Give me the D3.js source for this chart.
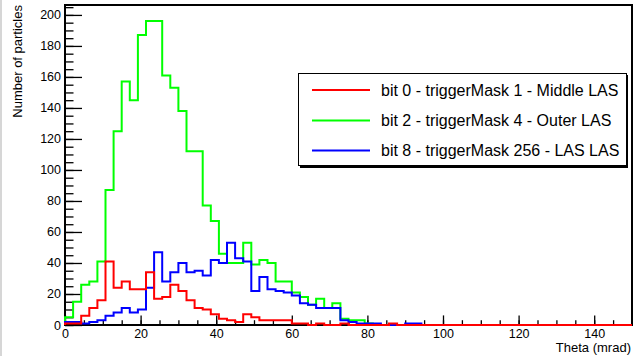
<!DOCTYPE html>
<html>
<head>
<meta charset="utf-8">
<script src="https://cdn.jsdelivr.net/npm/d3@7"></script>
<style>
  html, body { margin: 0; padding: 0; background: #ffffff; }
  svg { display: block; font-family: "Liberation Sans", Arial, Helvetica, sans-serif; }
</style>
</head>
<body>
<svg id="chart" width="633" height="356"></svg>
<script>
// ---- data ----
const xMin = 0, xMax = 150, nBins = 70;
const seriesNames = [
  "bit 0 - triggerMask 1 - Middle LAS",
  "bit 2 - triggerMask 4 - Outer LAS",
  "bit 8 - triggerMask 256 - LAS LAS"
];
const seriesColors = ["#ff0000", "#00ff00", "#0000ff"];
const redCounts = [
  1, 1, 6, 11, 16, 41, 24, 28, 23, 23,
  34, 17, 18, 26, 22, 16, 11, 10, 7, 4,
  3, 2, 7, 5, 3, 3, 3, 3, 1, 1,
  0, 1, 0, 0, 1, 0, 0, 0, 0, 0,
  1, 0, 0, 0, 0, 0, 0, 0, 0, 0,
  0, 0, 0, 0, 0, 0, 0, 0, 0, 0,
  0, 0, 0, 0, 0, 0, 0, 0, 0, 0
];
const greenCounts = [
  5, 15, 26, 28, 41, 87, 125, 157, 145, 187,
  196, 196, 161, 153, 138, 112, 112, 77, 67, 46,
  40, 40, 53, 39, 42, 40, 28, 28, 21, 18,
  13, 17, 11, 14, 4, 3, 3, 1, 0, 0,
  0, 0, 0, 0, 0, 0, 0, 0, 0, 0,
  0, 0, 0, 0, 0, 0, 0, 0, 0, 0,
  0, 0, 0, 0, 0, 0, 0, 0, 0, 0
];
const blueCounts = [
  2, 2, 1, 2, 3, 6, 8, 11, 8, 10,
  24, 47, 28, 34, 40, 34, 35, 32, 42, 40,
  53, 43, 41, 22, 31, 23, 22, 21, 19, 14,
  13, 11, 11, 11, 3, 2, 1, 1, 1, 0,
  0, 0, 1, 1, 0, 0, 0, 0, 0, 0,
  0, 0, 0, 0, 0, 0, 0, 0, 0, 0,
  0, 0, 0, 0, 0, 0, 0, 0, 0, 0
];
const yMax = 206.4;
const xMajorTicks = [0, 20, 40, 60, 80, 100, 120, 140];
const yMajorTicks = [0, 20, 40, 60, 80, 100, 120, 140, 160, 180, 200];
const xTitle = "Theta (mrad)";
const yTitle = "Number of particles";

// ---- layout ----
const svg = d3.select("#chart");
const padL = 65, padR = 632, padT = 5, padB = 325;
const x = d3.scaleLinear().domain([xMin, xMax]).range([padL, padR]);
const y = d3.scaleLinear().domain([0, yMax]).range([padB, padT]);
const binW = (xMax - xMin) / nBins;

// left gray edge
svg.append("rect").attr("x", 0).attr("y", 0).attr("width", 2).attr("height", 356).attr("fill", "#d6d6d6");

// histograms (drawn green, blue, red)
function histPath(counts) {
  const pts = [[xMin, 0]];
  counts.forEach((c, i) => pts.push([xMin + i * binW, c]));
  pts.push([xMax, counts[counts.length - 1]]);
  pts.push([xMax, 0]);
  return d3.line().x(d => x(d[0])).y(d => y(d[1])).curve(d3.curveStepAfter)(pts);
}
const drawOrder = [[greenCounts, seriesColors[1]], [blueCounts, seriesColors[2]], [redCounts, seriesColors[0]]];

// axes
const fontSize = 12.5;
const gx = svg.append("g").attr("transform", `translate(0,${padB})`)
  .call(d3.axisBottom(x).tickValues(xMajorTicks).tickSizeInner(-9.6).tickSizeOuter(0).tickPadding(4).tickFormat(d3.format("d")));
const gxm = svg.append("g").attr("transform", `translate(0,${padB})`)
  .call(d3.axisBottom(x).tickValues(d3.range(0, 151, 5)).tickSizeInner(-4.8).tickSizeOuter(0).tickFormat(""));
const gy = svg.append("g").attr("transform", `translate(${padL},0)`)
  .call(d3.axisLeft(y).tickValues(yMajorTicks).tickSizeInner(-17).tickSizeOuter(0).tickPadding(4).tickFormat(d3.format("d")));
const gym = svg.append("g").attr("transform", `translate(${padL},0)`)
  .call(d3.axisLeft(y).tickValues(d3.range(0, 206, 5)).tickSizeInner(-8.5).tickSizeOuter(0).tickFormat(""));
[gx, gxm, gy, gym].forEach(g => {
  g.select(".domain").remove();
  g.selectAll("line").attr("stroke", "#000").attr("stroke-width", 1.3);
  g.selectAll("text").attr("font-size", fontSize).attr("fill", "#000")
    .attr("font-family", '"Liberation Sans", Arial, sans-serif');
});

// frame
svg.append("rect").attr("x", padL).attr("y", padT).attr("width", padR - padL).attr("height", padB - padT)
  .attr("fill", "none").attr("stroke", "#000").attr("stroke-width", 2);

drawOrder.forEach(([counts, color]) => {
  svg.append("path").attr("d", histPath(counts)).attr("fill", "none")
    .attr("stroke", color).attr("stroke-width", 2).attr("stroke-linejoin", "miter");
});

// titles
svg.append("text").attr("x", 631).attr("y", 352).attr("text-anchor", "end")
  .attr("font-size", 13).text(xTitle);
svg.append("text").attr("transform", "translate(22,5) rotate(-90)").attr("text-anchor", "end")
  .attr("font-size", 13).text(yTitle);

// legend
const lg = svg.append("g");
lg.append("rect").attr("x", 300).attr("y", 75).attr("width", 328).attr("height", 93).attr("fill", "#000");
lg.append("rect").attr("x", 298.5).attr("y", 73.5).attr("width", 328).attr("height", 92)
  .attr("fill", "#fff").attr("stroke", "#000").attr("stroke-width", 1);
const rowY = [90, 120.5, 150.5];
seriesNames.forEach((name, i) => {
  lg.append("line").attr("x1", 312).attr("x2", 370).attr("y1", rowY[i]).attr("y2", rowY[i])
    .attr("stroke", seriesColors[i]).attr("stroke-width", 2);
  lg.append("text").attr("x", 381).attr("y", rowY[i]).attr("dy", "0.36em")
    .attr("font-size", 16).text(name);
});
</script>
</body>
</html>
